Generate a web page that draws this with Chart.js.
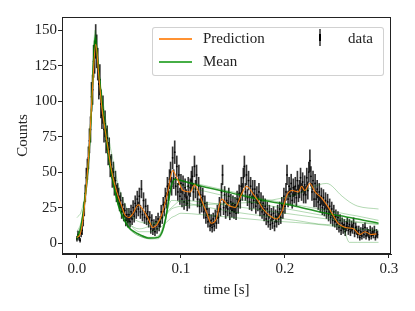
<!DOCTYPE html>
<html>
<head>
<meta charset="utf-8">
<script src="https://cdn.jsdelivr.net/npm/chart.js@4.4.1/dist/chart.umd.min.js"></script>
<style>
  html, body { margin: 0; padding: 0; background: #fff; }
  #wrap { position: relative; width: 415px; height: 311px; }
  #legend { position: absolute; left: 152px; top: 27px; width: 230px; height: 47px;
            border: 1px solid rgba(204,204,204,0.9); border-radius: 3px; background: rgba(255,255,255,0.85);
            font-family: 'Liberation Serif', serif; font-size: 15px; color: #222; }
  .lg-line { position: absolute; height: 1.5px; }
  .lg-text { position: absolute; line-height: 16px; }
</style>
</head>
<body>
<div id="wrap">
  <canvas id="c" width="415" height="311"></canvas>
  <div id="legend">
    <div class="lg-line" style="left:6px; top:10px; width:33px; background: rgba(255,127,14,0.85);"></div>
    <div class="lg-text" style="left:50px; top:2px;">Prediction</div>
    <div class="lg-line" style="left:6px; top:33px; width:33px; background: rgba(50,165,50,0.9);"></div>
    <div class="lg-text" style="left:50px; top:25px;">Mean</div>
    <div style="position:absolute; left:166px; top:1px; width:1.5px; height:17px; background: rgba(0,0,0,0.6);"></div>
    <div style="position:absolute; left:166px; top:6px; width:1.5px; height:7px; background: #000;"></div>
    <div class="lg-text" style="left:195px; top:2px;">data</div>
  </div>
</div>
<script>
// ---- observed data (sampled every 1 ms from t = 0) ----
const dataStart = 0.0;
const dataStep = 0.001;
const counts = [
  3,6,4,2,7,9,16,24,35,46,
  52,60,72,80,103,108,128,131,142,135,
  126,112,115,98,90,94,80,84,72,74,
  63,66,54,55,46,50,40,44,35,36,
  33,28,30,22,27,20,23,16,20,15,
  20,15,22,17,25,19,28,22,31,24,
  33,22,38,20,30,18,26,17,22,15,
  18,10,16,9,13,8,15,10,17,12,
  15,22,18,27,24,33,30,40,36,45,
  50,40,60,45,64,40,54,36,48,33,
  42,31,41,29,39,32,28,40,30,39,
  44,47,36,54,38,48,31,40,26,34,
  27,33,22,28,18,24,15,20,12,16,
  11,17,12,19,14,22,18,27,24,36,
  48,25,34,22,30,24,33,21,29,23,
  28,22,27,21,31,26,35,30,40,36,
  46,54,36,48,32,44,29,40,28,38,
  30,38,26,34,28,36,24,30,22,28,
  20,26,17,24,15,22,13,20,14,21,
  12,19,15,22,17,24,18,27,22,33,
  26,36,48,31,40,33,42,30,39,34,
  40,32,44,35,38,46,36,43,34,41,
  34,46,37,50,58,47,36,44,31,42,
  31,38,29,36,27,33,25,32,24,30,
  22,29,20,26,18,24,16,22,15,19,
  13,18,11,16,9,14,10,13,8,12,
  14,9,13,8,12,10,14,7,11,9,
  6,9,4,8,5,10,6,11,5,8,
  7,4,9,5,8,6,9,4,7,6
];

// ---- prediction (smooth) ----
const predT = [0,0.003,0.006,0.009,0.012,0.015,0.018,0.021,0.024,0.027,0.030,0.033,0.036,0.040,0.043,0.046,0.050,0.054,0.059,0.063,0.068,0.073,0.077,0.082,0.0875,0.092,0.096,0.102,0.109,0.113,0.117,0.120,0.125,0.129,0.134,0.139,0.145,0.152,0.158,0.163,0.170,0.174,0.179,0.186,0.192,0.197,0.202,0.207,0.213,0.216,0.219,0.224,0.229,0.235,0.241,0.246,0.251,0.258,0.266,0.272,0.277,0.283,0.288];
const predY = [4,6,18,40,70,110,140,118,95,80,66,52,42,32,26,20,18,21,27,24,18,11,13,21,37,51,46,37,36,41,36,30,21,14,17,31,27,25,34,40,34,30,24,19,17,22,34,37,36,40,37,42,36,32,26,20,14,11,10,6,8,6,6.5];

// ---- model mean and posterior samples ----
const modelT = [0,0.004,0.008,0.011,0.014,0.0175,0.02,0.023,0.027,0.031,0.035,0.04,0.045,0.05,0.055,0.06,0.07,0.078,0.082,0.085,0.088,0.091,0.094,0.1,0.12,0.15,0.18,0.21,0.24,0.255,0.262,0.27,0.29];
const meanY = [3,12,33,56,95,144,128,105,80,58,42,26,17,11,8,6,3.5,4,8,16,29,41,45,44,40,35,30,26,21,19,18,17,14];
const sample1 = [2,10,31,57,100,150,131,107,82,60,43,27,17,11,7,5,3,3,7,15,29,41,45,44,41,36,31,27,23,21,20,19,16];
const sample2 = [18,22,36,57,92,138,126,110,90,72,57,40,29,22,17,15,14,15,17,19,22,24,25,26,27,28,29.5,34,42,33,29,26,24];
const sample3 = [8,15,35,58,96,146,129,108,85,64,48,31,20,14,11,10,12,15,18,20,23,25,27,30,29,26,23,20,17,15.5,15,14.5,13];
const sample4 = [4,13,33,56,94,142,127,106,83,62,46,30,20,14,10,8,8,10,12,14,16,18,19,21,20,18,16,14.5,12.5,11,10.5,10,9];
const sample5 = [3,11,32,55,95,145,128,104,79,57,41,25,16,10,7,5,3,4,9,17,26,30,30,29,26,22,19,16,13,12,0.5,0.5,0.5];
const sample6 = [5,14,34,57,96,147,129,106,81,59,42,26,17,11,8,6,4,5,10,18,31,40,42,41,37,32,27,23,19,17,16,15,13.5];
const samples = [sample1, sample2, sample3, sample4, sample5, sample6];

// ---- axes ----
const xTicks = [0.0, 0.1, 0.2, 0.3];
const yTicks = [0, 25, 50, 75, 100, 125, 150];

const pts = (ts, ys) => ts.map((t, i) => ({ x: t, y: ys[i] }));
const dataPts = counts.map((c, i) => ({ x: dataStart + i * dataStep, y: c }));
const errPts = counts.map((c, i) => ({ x: dataStart + i * dataStep, y: [c - Math.sqrt(c), c + Math.sqrt(c)] }));

const FONT = "'Liberation Serif', serif";
Chart.defaults.font.family = FONT;
Chart.defaults.font.size = 15;
Chart.defaults.color = '#222';

const datasets = [];
datasets.push({ type: 'bar', label: 'err', data: errPts, backgroundColor: 'rgba(0,0,0,0.8)', borderWidth: 0,
  barThickness: 1, grouped: false, order: 10 });
datasets.push({ type: 'line', label: 'data', data: dataPts, showLine: false, pointRadius: 0.9,
  pointBackgroundColor: '#000', pointBorderWidth: 0, order: 9 });
samples.forEach((s, k) => datasets.push({ type: 'line', label: 's' + k, data: pts(modelT, s),
  borderColor: 'rgba(0,128,0,0.3)', borderWidth: 1, pointRadius: 0, cubicInterpolationMode: 'monotone', order: 5 }));
datasets.push({ type: 'line', label: 'Mean', data: pts(modelT, meanY), borderColor: 'rgba(0,128,0,0.85)',
  borderWidth: 1.5, pointRadius: 0, cubicInterpolationMode: 'monotone', order: 2 });
datasets.push({ type: 'line', label: 'Prediction', data: pts(predT, predY), borderColor: 'rgba(255,127,14,0.95)',
  borderWidth: 1.1, pointRadius: 0, cubicInterpolationMode: 'monotone', order: 1 });

const frame = {
  id: 'frame',
  afterDraw(chart) {
    const a = chart.chartArea, ctx = chart.ctx;
    ctx.save();
    ctx.strokeStyle = '#222';
    ctx.lineWidth = 1;
    ctx.strokeRect(a.left + 0.5, a.top + 0.5, a.right - a.left - 1, a.bottom - a.top - 1);
    ctx.restore();
  }
};

new Chart(document.getElementById('c'), {
  type: 'line',
  data: { datasets },
  plugins: [frame],
  options: {
    responsive: false,
    animation: false,
    layout: { padding: { top: 17, right: 24, left: 0, bottom: 0 } },
    plugins: { legend: { display: false }, tooltip: { enabled: false } },
    scales: {
      x: {
        type: 'linear', min: -0.0144, max: 0.302, offset: false,
        afterFit(s) { s.height = 57; },
        afterBuildTicks(s) { s.ticks = xTicks.map(v => ({ value: v })); },
        ticks: { callback: v => v.toFixed(1), padding: 2, maxRotation: 0, font: { size: 15 } },
        grid: { display: true, offset: false, drawOnChartArea: false, drawTicks: true, tickLength: 4, color: '#222' },
        border: { display: true, color: '#222' },
        title: { display: true, text: 'time [s]', font: { size: 15 }, padding: { top: 0, bottom: 12 } }
      },
      y: {
        type: 'linear', min: -7.7, max: 159.2,
        afterFit(s) { s.width = 62; },
        afterBuildTicks(s) { s.ticks = yTicks.map(v => ({ value: v })); },
        ticks: { padding: 1, font: { size: 15 } },
        grid: { display: true, drawOnChartArea: false, drawTicks: true, tickLength: 4, color: '#222' },
        border: { display: true, color: '#222' },
        title: { display: true, text: 'Counts', font: { size: 15 }, padding: { top: 14, bottom: 0 } }
      }
    }
  }
});
</script>
</body>
</html>
